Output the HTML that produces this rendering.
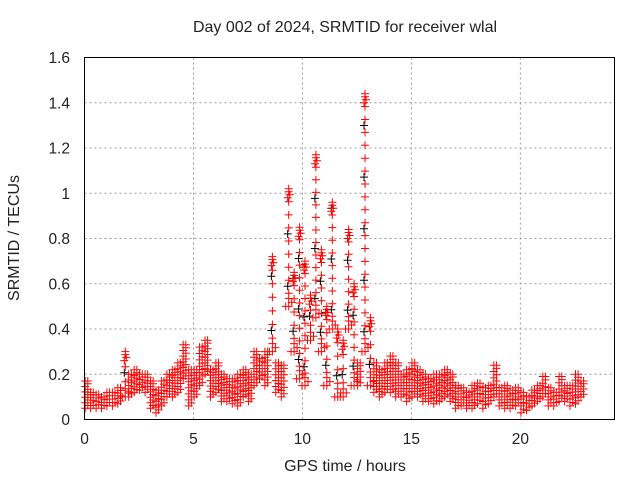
<!DOCTYPE html>
<html><head><meta charset="utf-8"><style>
body{margin:0;background:#fff}
svg{display:block;font-family:"Liberation Sans",sans-serif}
</style></head><body>
<svg id="chart" width="640" height="480" viewBox="0 0 640 480">
<rect width="640" height="480" fill="#fff"/>
<g id="grid"></g>
<g id="marks"></g>
<rect x="84.5" y="57.5" width="530" height="362" fill="none" stroke="#000" stroke-width="1"/>
<g id="ticks" font-size="15.5" fill="#222"></g>
<text x="345" y="32" font-size="16" text-anchor="middle" fill="#222">Day 002 of 2024, SRMTID for receiver wlal</text>
<text x="345" y="471" font-size="16" text-anchor="middle" fill="#222">GPS time / hours</text>
<text transform="translate(19,238) rotate(-90)" font-size="16" text-anchor="middle" fill="#222">SRMTID / TECUs</text>
</svg>
<script>
const xTicks=[0,5,10,15,20];
const yTicks=[0,0.2,0.4,0.6,0.8,1,1.2,1.4,1.6];
const yTickLabels=["0","0.2","0.4","0.6","0.8","1","1.2","1.4","1.6"];
const binStart=0, binStep=0.25;
const lo=[.05,.05,.05,.05,.06,.06,.07,.1,.1,.12,.13,.12,.05,.03,.06,.1,.1,.12,.18,.06,.1,.15,.2,.1,.12,.08,.08,.07,.06,.1,.08,.15,.18,.15,.3,.12,.1,.5,.3,.18,.15,.35,.45,.3,.15,.4,.1,.1,.4,.15,.15,.3,.15,.12,.1,.12,.12,.1,.1,.08,.1,.1,.08,.08,.07,.08,.1,.08,.05,.06,.05,.05,.07,.05,.07,.1,.06,.05,.05,.06,.03,.04,.06,.08,.1,.06,.06,.08,.08,.06,.07,.1];
const hi=[.17,.12,.11,.1,.12,.12,.14,.3,.2,.22,.2,.2,.17,.13,.17,.2,.22,.25,.33,.22,.22,.32,.35,.22,.25,.2,.18,.18,.2,.22,.2,.3,.27,.3,.72,.25,.24,1.02,.65,.85,.7,.55,1.17,.75,.5,.96,.4,.35,.84,.6,.25,1.44,.45,.25,.22,.25,.28,.25,.2,.22,.25,.22,.2,.18,.2,.2,.22,.2,.15,.14,.12,.15,.16,.14,.15,.24,.14,.15,.13,.14,.12,.1,.13,.15,.19,.14,.12,.19,.15,.15,.2,.17];
const X0=84.5,X1=614.5,XMAX=24.32,Y0=419.5,Y1=57.5,YMAX=1.6;
const xs=v=>X0+(X1-X0)*v/XMAX;
const ys=v=>Y0-(Y0-Y1)*v/YMAX;
const NS="http://www.w3.org/2000/svg";
const grid=document.getElementById('grid'),ticks=document.getElementById('ticks'),marks=document.getElementById('marks');
xTicks.forEach(t=>{
 if(t>0){const l=document.createElementNS(NS,'line');
 
 
 l.setAttribute('x1',xs(t));l.setAttribute('x2',xs(t));l.setAttribute('y1',Y1);l.setAttribute('y2',Y0);
 l.setAttribute('stroke','#999');l.setAttribute('stroke-dasharray','2,3');grid.appendChild(l);}
 const tx=document.createElementNS(NS,'text');
 
 
 tx.setAttribute('x',xs(t));tx.setAttribute('y',444);tx.setAttribute('text-anchor','middle');tx.textContent=t;ticks.appendChild(tx);
});
yTicks.forEach((t,i)=>{
 if(t>0&&t<YMAX){const l=document.createElementNS(NS,'line');
 
 
 l.setAttribute('x1',X0);l.setAttribute('x2',X1);l.setAttribute('y1',ys(t));l.setAttribute('y2',ys(t));
 l.setAttribute('stroke','#999');l.setAttribute('stroke-dasharray','2,3');grid.appendChild(l);}
 const tx=document.createElementNS(NS,'text');
 
 
 tx.setAttribute('x',70);tx.setAttribute('y',ys(t)+5.5);tx.setAttribute('text-anchor','end');tx.textContent=yTickLabels[i];ticks.appendChild(tx);
});
let dBlack='',dRed='';
const plus=(x,y)=>`M${(x-4).toFixed(1)} ${y.toFixed(1)}h8M${x.toFixed(1)} ${(y-4).toFixed(1)}v8`;
lo.forEach((l,i)=>{
 const t=binStart+i*binStep, h=hi[i];
 const yl=ys(l),yh=ys(h),span=yl-yh;
 if(span>45){
  const x=xs(t+0.12);
  const n=Math.round(span/13);
  for(let j=0;j<=n;j++){const y=yl-span*j/n;dRed+=plus(x,y);if(j%4==2)dBlack+=plus(x-1,y+6);}
  dRed+=plus(x,yh+3)+plus(x+1,yh+6)+plus(x-1,yh+9);
  dRed+=plus(x-3,yl)+plus(x+3,yl-4)+plus(x,yl-8);
 } else {
  [0.03,0.15].forEach((o,k)=>{
   const x=xs(t+o);
   const n=Math.max(2,Math.round(span/6));
   for(let j=0;j<=n;j++){
    const y=yl-span*((j+k*0.5)%(n+1))/n;
    dRed+=plus(x,Math.min(yl,Math.max(yh,y)));
   }
  });
 }
});
const pb=document.createElementNS(NS,'path');


pb.setAttribute('d',dBlack);pb.setAttribute('stroke','#000');pb.setAttribute('fill','none');marks.appendChild(pb);
const pr=document.createElementNS(NS,'path');


pr.setAttribute('d',dRed);pr.setAttribute('stroke','#f00');pr.setAttribute('fill','none');marks.appendChild(pr);
</script>
</body></html>
